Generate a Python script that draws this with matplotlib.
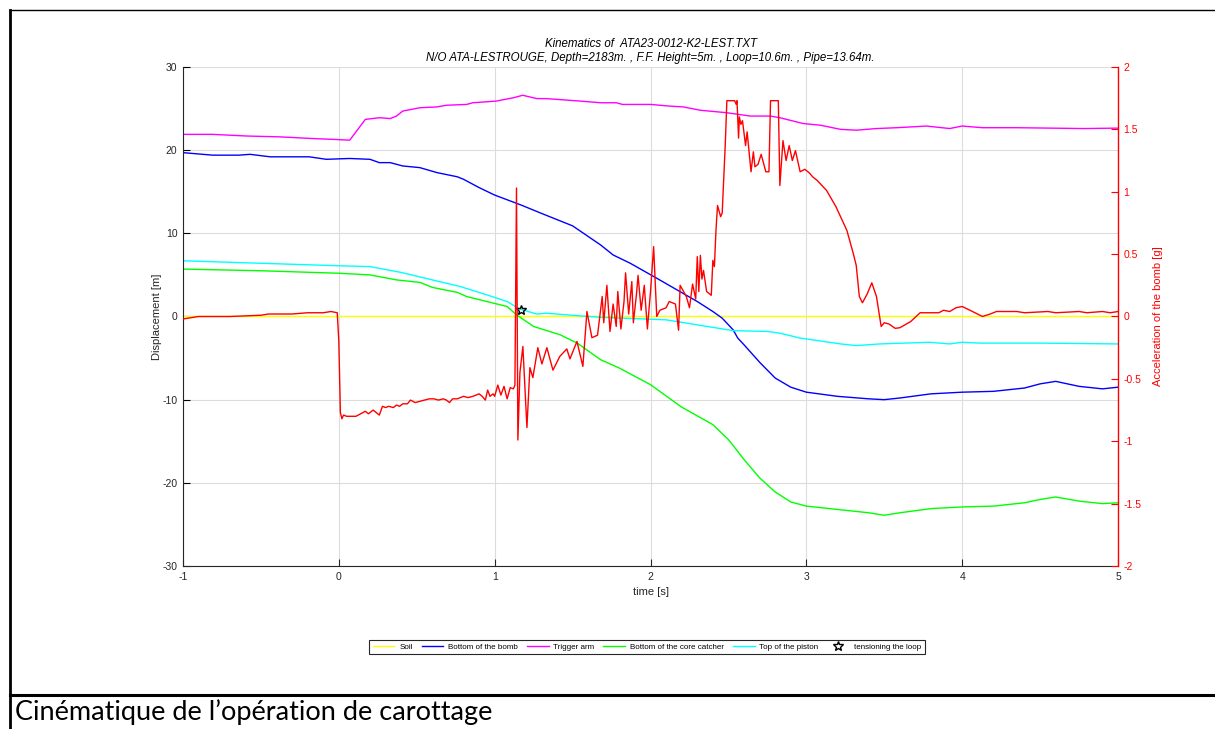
import matplotlib
matplotlib.use("Agg")
import matplotlib.pyplot as plt
from matplotlib.lines import Line2D

plt.rcParams['font.family'] = ['Liberation Sans', 'DejaVu Sans']
plt.rcParams['axes.unicode_minus'] = False

# ---- data -------------------------------------------------------------
soil_t = [-1.0, 5.0]
soil_y = [0.0, 0.0]

trigger_t = [-1.0, -0.81, -0.59, -0.38, -0.17, -0.04, 0.07, 0.17, 0.26, 0.33, 0.37,
             0.41, 0.52, 0.63, 0.69, 0.82, 0.86, 1.01, 1.12, 1.18, 1.27, 1.33, 1.55,
             1.68, 1.78, 1.82, 2.0, 2.12, 2.21, 2.32, 2.49, 2.64, 2.77, 2.83, 2.98,
             3.09, 3.22, 3.32, 3.45, 3.58, 3.77, 3.92, 4.0, 4.13, 4.35, 4.78, 5.0]
trigger_y = [21.9, 21.9, 21.7, 21.6, 21.4, 21.3, 21.2, 23.7, 23.9, 23.8, 24.1,
             24.7, 25.1, 25.2, 25.4, 25.5, 25.7, 25.9, 26.3, 26.6, 26.2, 26.2, 25.9,
             25.7, 25.7, 25.5, 25.5, 25.3, 25.2, 24.8, 24.5, 24.1, 24.1, 23.9, 23.2,
             23.0, 22.5, 22.4, 22.6, 22.7, 22.9, 22.6, 22.9, 22.7, 22.7, 22.6, 22.65]

bomb_t = [-1.0, -0.81, -0.64, -0.57, -0.44, -0.19, -0.08, 0.07, 0.2, 0.26, 0.33, 0.41,
          0.52, 0.63, 0.76, 0.8, 0.9, 1.0, 1.17, 1.3, 1.5, 1.68, 1.76, 1.87, 2.04, 2.17,
          2.3, 2.4, 2.46, 2.53, 2.56, 2.6, 2.7, 2.8, 2.9, 3.0, 3.2, 3.4, 3.5, 3.6, 3.8,
          4.0, 4.2, 4.4, 4.5, 4.6, 4.75, 4.9, 5.0]
bomb_y = [19.7, 19.4, 19.4, 19.5, 19.2, 19.2, 18.9, 19.0, 18.9, 18.5, 18.5, 18.1,
          17.9, 17.3, 16.8, 16.5, 15.5, 14.6, 13.4, 12.4, 10.9, 8.6, 7.4, 6.4, 4.6, 3.2,
          1.8, 0.6, -0.2, -1.6, -2.6, -3.4, -5.5, -7.4, -8.5, -9.1, -9.6, -9.9, -10.0,
          -9.8, -9.3, -9.1, -9.0, -8.6, -8.1, -7.8, -8.4, -8.7, -8.5]

catcher_t = [-1.0, -0.5, 0.0, 0.2, 0.37, 0.52, 0.6, 0.76, 0.82, 0.95, 1.08, 1.14, 1.25,
             1.42, 1.53, 1.68, 1.8, 2.0, 2.2, 2.4, 2.5, 2.6, 2.7, 2.8, 2.9, 3.0, 3.2,
             3.4, 3.5, 3.6, 3.8, 4.0, 4.2, 4.4, 4.5, 4.6, 4.75, 4.9, 5.0]
catcher_y = [5.7, 5.5, 5.2, 5.0, 4.4, 4.1, 3.5, 2.9, 2.4, 1.8, 1.2, 0.2, -1.2,
             -2.2, -3.2, -5.2, -6.2, -8.2, -10.9, -13.0, -14.8, -17.2, -19.4, -21.1,
             -22.3, -22.8, -23.2, -23.6, -23.9, -23.6, -23.1, -22.9, -22.8, -22.4,
             -22.0, -21.7, -22.2, -22.5, -22.4]

piston_t = [-1.0, -0.5, 0.0, 0.2, 0.4, 0.6, 0.78, 0.95, 1.08, 1.16, 1.27, 1.33, 1.46,
            1.68, 2.1, 2.53, 2.75, 2.83, 2.96, 3.0, 3.22, 3.32, 3.47, 3.79, 3.92, 4.0,
            4.11, 4.5, 5.0]
piston_y = [6.7, 6.4, 6.1, 6.0, 5.3, 4.4, 3.6, 2.6, 1.8, 0.9, 0.3, 0.4, 0.2,
            -0.1, -0.4, -1.7, -1.8, -2.0, -2.6, -2.7, -3.3, -3.5, -3.3, -3.1, -3.3,
            -3.1, -3.2, -3.2, -3.3]

tension_t = [1.166]
tension_y = [0.78]

accel_t = [-1.0, -0.95, -0.9, -0.7, -0.5, -0.45, -0.3, -0.2, -0.1, -0.05, -0.01,
           0.0, 0.01, 0.02, 0.03, 0.05, 0.08, 0.11, 0.14, 0.17, 0.19, 0.22, 0.24,
           0.26, 0.28, 0.30, 0.32, 0.35, 0.37, 0.39, 0.41, 0.44, 0.46, 0.49, 0.52,
           0.55, 0.58, 0.61, 0.64, 0.67, 0.69, 0.71, 0.73, 0.76, 0.80, 0.83, 0.86,
           0.88, 0.90, 0.92, 0.94, 0.955, 0.97, 0.99, 1.00, 1.02, 1.04, 1.06, 1.08,
           1.10, 1.12, 1.13, 1.14, 1.149, 1.162, 1.181, 1.207, 1.226, 1.245, 1.277,
           1.303, 1.335, 1.374, 1.418, 1.463, 1.483, 1.528, 1.566, 1.592, 1.624,
           1.66, 1.69, 1.70, 1.72, 1.74, 1.76, 1.78, 1.79, 1.81, 1.83, 1.84, 1.86,
           1.88, 1.89, 1.91, 1.92, 1.94, 1.96, 1.98, 2.00, 2.02, 2.04, 2.06, 2.10,
           2.12, 2.16, 2.18, 2.19, 2.23, 2.25, 2.27, 2.29, 2.30, 2.31, 2.32, 2.33,
           2.34, 2.36, 2.39, 2.40, 2.41, 2.42, 2.43, 2.45, 2.46, 2.48, 2.49, 2.54,
           2.55, 2.555, 2.565, 2.57, 2.58, 2.59, 2.61, 2.62, 2.645, 2.66, 2.67, 2.69,
           2.71, 2.74, 2.76, 2.77, 2.82, 2.83, 2.85, 2.87, 2.89, 2.91, 2.93, 2.96,
           2.99, 3.02, 3.04, 3.07, 3.13, 3.19, 3.26, 3.30, 3.32, 3.34, 3.36, 3.39,
           3.42, 3.45, 3.48, 3.50, 3.53, 3.57, 3.60, 3.67, 3.73, 3.80, 3.85, 3.88,
           3.92, 3.96, 4.00, 4.05, 4.13, 4.18, 4.22, 4.35, 4.40, 4.55, 4.60, 4.75,
           4.80, 4.90, 4.95, 5.0]
accel_g = [-0.02, -0.01, 0.0, 0.0, 0.01, 0.02, 0.02, 0.03, 0.03, 0.04, 0.03,
           -0.2, -0.77, -0.82, -0.79, -0.8, -0.8, -0.8, -0.78, -0.76, -0.78, -0.75, -0.77,
           -0.79, -0.72, -0.73, -0.72, -0.73, -0.71, -0.72, -0.70, -0.70, -0.67, -0.69, -0.68,
           -0.67, -0.66, -0.66, -0.67, -0.66, -0.67, -0.69, -0.66, -0.66, -0.64, -0.65, -0.64,
           -0.63, -0.62, -0.64, -0.67, -0.59, -0.64, -0.62, -0.64, -0.55, -0.63, -0.56, -0.66,
           -0.57, -0.58, -0.55, 1.03, -0.99, -0.45, -0.24, -0.89, -0.41, -0.49, -0.25,
           -0.38, -0.25, -0.43, -0.32, -0.26, -0.34, -0.2, -0.4, 0.04, -0.17,
           -0.15, 0.16, -0.05, 0.25, -0.12, 0.10, -0.08, 0.20, -0.10, 0.12, 0.35, 0.02,
           0.28, -0.05, 0.18, 0.33, 0.05, 0.25, -0.10, 0.20, 0.56, 0.0, 0.05, 0.07,
           0.12, 0.10, -0.11, 0.25, 0.16, 0.07, 0.26, 0.14, 0.48, 0.20, 0.49, 0.30,
           0.37, 0.20, 0.17, 0.45, 0.40, 0.69, 0.89, 0.80, 0.83, 1.39, 1.73, 1.73,
           1.70, 1.73, 1.43, 1.60, 1.54, 1.57, 1.37, 1.48, 1.16, 1.32, 1.20, 1.22,
           1.30, 1.16, 1.16, 1.73, 1.73, 1.05, 1.41, 1.25, 1.37, 1.25, 1.33, 1.16,
           1.18, 1.15, 1.12, 1.09, 1.01, 0.88, 0.69, 0.51, 0.41, 0.16, 0.11, 0.18,
           0.27, 0.16, -0.08, -0.05, -0.06, -0.095, -0.09, -0.04, 0.03, 0.03, 0.03, 0.05,
           0.04, 0.07, 0.08, 0.05, 0.0, 0.02, 0.04, 0.04, 0.03, 0.04, 0.03, 0.04,
           0.03, 0.04, 0.03, 0.04]

# ---- figure -----------------------------------------------------------
fig = plt.figure(figsize=(12.15, 7.29), dpi=100)
ax = fig.add_axes([0.1506, 0.2236, 0.7696, 0.6845])
ax2 = ax.twinx()

lw = 1.0
l_soil, = ax.plot(soil_t, soil_y, color='#FFFF00', lw=lw, label='Soil')
l_bomb, = ax.plot(bomb_t, bomb_y, color='#0000FF', lw=lw, label='Bottom of the bomb')
l_trig, = ax.plot(trigger_t, trigger_y, color='#FF00FF', lw=lw, label='Trigger arm')
l_cat, = ax.plot(catcher_t, catcher_y, color='#00FF00', lw=lw, label='Bottom of the core catcher')
l_pis, = ax.plot(piston_t, piston_y, color='#00FFFF', lw=lw, label='Top of the piston')
l_ten, = ax.plot(tension_t, tension_y, ls='none', marker='*', ms=7, mfc='none',
                 mec='black', mew=1.0, label='tensioning the loop', zorder=5)

ax2.plot(accel_t, accel_g, color='#FF0000', lw=lw)

ax.set_xlim(-1, 5)
ax.set_ylim(-30, 30)
ax2.set_ylim(-2, 2)
ax.set_xticks(range(-1, 6))
ax.set_yticks(range(-30, 31, 10))
ax2.set_yticks([-2, -1.5, -1, -0.5, 0, 0.5, 1, 1.5, 2])
ax2.set_yticklabels(['-2', '-1.5', '-1', '-0.5', '0', '0.5', '1', '1.5', '2'])

ax.grid(True, color='#DCDCDC', lw=0.8)
ax.set_axisbelow(True)

tick_col = '#262626'
ax.tick_params(axis='both', direction='in', length=5, width=0.8, labelsize=7.5,
               colors=tick_col, pad=4)
ax.tick_params(axis='y', colors='black', labelcolor=tick_col)
ax2.tick_params(axis='y', direction='in', length=5, width=0.8, labelsize=7.5,
                colors='#FF0000', pad=4)

for a in (ax, ax2):
    a.spines['top'].set_visible(False)
ax.spines['right'].set_visible(False)
ax2.spines['left'].set_visible(False)
ax2.spines['bottom'].set_visible(False)
ax.spines['left'].set_color('#262626')
ax.spines['bottom'].set_color('#262626')
ax2.spines['right'].set_color('#FF0000')
ax2.spines['right'].set_linewidth(1.0)

ax.set_xlabel('time [s]', fontsize=8, color=tick_col, labelpad=4)
ax.set_ylabel('Displacement [m]', fontsize=8, color=tick_col, labelpad=0)
ax2.set_ylabel('Acceleration of the bomb [g]', fontsize=8, color='#FF0000', labelpad=8)

ax.set_title('Kinematics of  ATA23-0012-K2-LEST.TXT\n'
             'N/O ATA-LESTROUGE, Depth=2183m. , F.F. Height=5m. , Loop=10.6m. , Pipe=13.64m.',
             fontsize=8.3, style='italic', color='black', pad=4, linespacing=1.25)

leg = fig.legend(handles=[l_soil, l_bomb, l_trig, l_cat, l_pis, l_ten],
                 loc='center', bbox_to_anchor=(647 / 1215, 1 - 647 / 729), ncol=6,
                 fontsize=5.8, frameon=True, fancybox=False, edgecolor='#262626',
                 framealpha=1, handlelength=2.7, handletextpad=0.6, columnspacing=1.1,
                 borderpad=0.45)
leg.get_frame().set_linewidth(0.8)

# surrounding frame and caption
fig.add_artist(Line2D([10 / 1215, 1.0], [1 - 10 / 729, 1 - 10 / 729],
                      color='black', lw=1.0, transform=fig.transFigure))
fig.add_artist(Line2D([10 / 1215, 10 / 1215], [0.0, 1 - 10 / 729],
                      color='black', lw=2.0, transform=fig.transFigure))
fig.add_artist(Line2D([10 / 1215, 1.0], [1 - 695 / 729, 1 - 695 / 729],
                      color='black', lw=2.2, transform=fig.transFigure))
fig.text(15 / 1215, 9 / 729, 'Cinématique de l\u2019opération de carottage',
         fontsize=19.5, family=['Lato', 'DejaVu Sans'], color='black', va='baseline')

fig.savefig('out.png', dpi=100)
